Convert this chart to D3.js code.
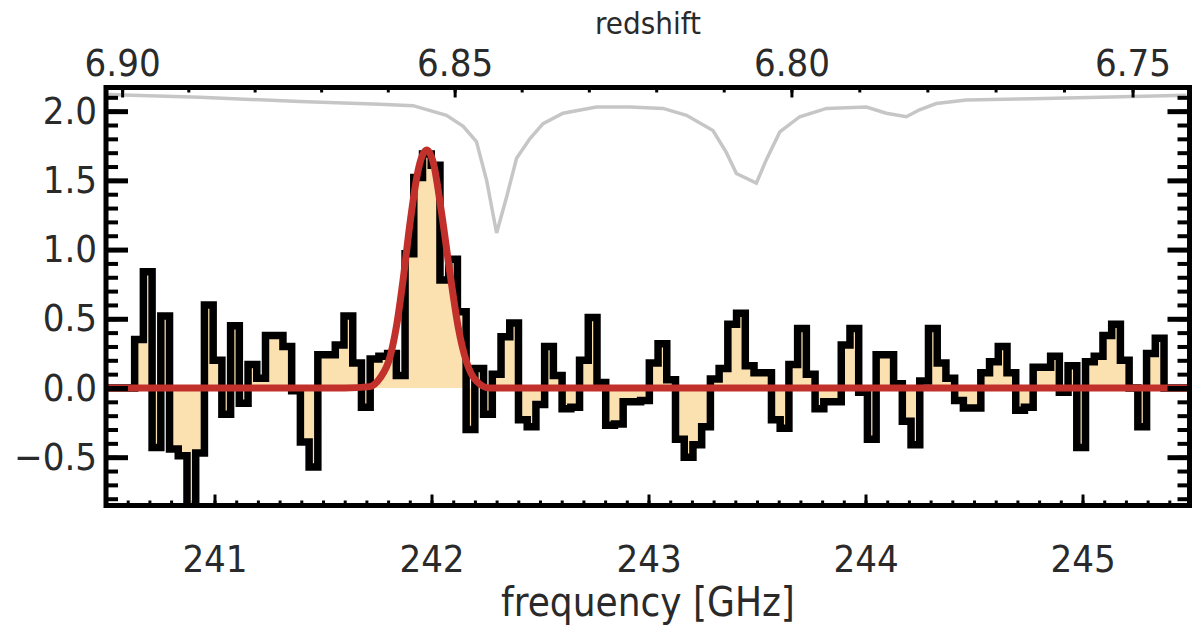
<!DOCTYPE html>
<html>
<head>
<meta charset="utf-8">
<script src="https://cdn.jsdelivr.net/npm/d3@7"></script>
<style>
  html, body { margin: 0; padding: 0; background: #fff; }
  svg text { font-family: "Liberation Sans Narrow", "DejaVu Sans Condensed", "Liberation Sans", sans-serif; fill: #222; }
</style>
</head>
<body>
<div id="chart"></div>
<script>
// channel grid of the spectrum (GHz)
var chanStart = 240.632;
var chanWidth = 0.0402;
// flux density per channel (mJy)
var flux = [
  0.35, 0.84, -0.43, 0.52, -0.44, -0.49, -0.92, -0.47, 0.60, 0.20,
  -0.19, 0.45, -0.11, 0.17, 0.07, 0.38, 0.38, 0.30, -0.02, -0.39,
  -0.57, 0.24, 0.24, 0.31, 0.52, 0.18, -0.14, 0.21, 0.23, 0.25,
  0.09, 0.97, 1.52, 1.69, 1.61, 0.78, 0.93, 0.55, -0.30, 0.14,
  -0.19, 0.10, 0.37, 0.47, -0.23, -0.28, -0.12, 0.30, 0.09, -0.15,
  -0.14, 0.20, 0.51, 0.04, -0.27, -0.26, -0.10, -0.10, -0.09, 0.18,
  0.32, 0.06, -0.37, -0.50, -0.41, -0.28, 0.065, 0.14, 0.46, 0.54,
  0.16, 0.11, 0.11, -0.23, -0.29, 0.17, 0.43, 0.10, -0.15, -0.10,
  -0.10, 0.31, 0.43, -0.03, -0.37, 0.24, 0.24, 0.03, -0.24, -0.41,
  0.05, 0.43, 0.18, 0.07, -0.09, -0.145, -0.145, 0.11, 0.19, 0.30,
  0.11, -0.16, -0.14, 0.15, 0.15, 0.23, -0.03, 0.16, -0.43, 0.19,
  0.23, 0.38, 0.46, 0.20, 0.0, -0.28, 0.25, 0.36
];

// gaussian fit
var fitFreq = [240.51, 241.60, 241.716, 241.762, 241.808, 241.839, 241.869, 241.900, 241.938, 241.978, 242.008, 242.046, 242.085, 242.123, 242.161, 242.207, 242.269, 242.40, 245.49];
var fitFlux = [0, 0, 0.01, 0.07, 0.22, 0.45, 0.78, 1.18, 1.57, 1.72, 1.63, 1.27, 0.83, 0.44, 0.19, 0.05, 0.0, 0, 0];

// atmospheric transmission trace (plotted in flux units)
var atmFreq = [240.505, 240.933, 241.394, 241.762, 241.915, 242.069, 242.146, 242.207, 242.254, 242.300, 242.346, 242.392, 242.453, 242.514, 242.606, 242.760, 242.914, 243.067, 243.175, 243.297, 243.359, 243.405, 243.497, 243.543, 243.605, 243.697, 243.820, 244.004, 244.096, 244.188, 244.249, 244.326, 244.465, 244.770, 245.079, 245.479];
var atmFlux = [2.12, 2.10, 2.07, 2.05, 2.04, 1.97, 1.89, 1.78, 1.50, 1.12, 1.38, 1.66, 1.80, 1.91, 1.985, 2.03, 2.03, 2.02, 1.97, 1.86, 1.70, 1.55, 1.48, 1.65, 1.85, 1.96, 2.02, 2.03, 1.985, 1.96, 2.01, 2.055, 2.08, 2.09, 2.10, 2.115];

// axis ticks
var yMajor = [-0.5, 0.0, 0.5, 1.0, 1.5, 2.0];
var freqMajor = [241, 242, 243, 244, 245];
var zMajor = [6.90, 6.85, 6.80, 6.75];
var nuRest = 1900.537; // [CII] rest frequency, GHz

var W = 1192, H = 630;
var pLeft = 106, pRight = 1189.5, pTop = 87.5, pBottom = 505.5;

var x = d3.scaleLinear().domain([240.5, 245.493]).range([pLeft, pRight]);
var y = d3.scaleLinear().domain([-0.849, 2.171]).range([pBottom, pTop]);

var svg = d3.select("#chart").append("svg")
  .attr("width", W).attr("height", H);

svg.append("clipPath").attr("id", "plotclip")
  .append("rect").attr("x", pLeft).attr("y", pTop)
  .attr("width", pRight - pLeft).attr("height", pBottom - pTop);

var plot = svg.append("g").attr("clip-path", "url(#plotclip)");

var edges = d3.range(flux.length + 1).map(function(i) { return chanStart + i * chanWidth; });
var steps = flux.map(function(v, i) { return [edges[i], v]; });
steps.push([edges[flux.length], flux[flux.length - 1]]);

// filled histogram
var area = d3.area()
  .x(function(d) { return x(d[0]); })
  .y0(y(0))
  .y1(function(d) { return y(d[1]); })
  .curve(d3.curveStepAfter);
plot.append("path").datum(steps)
  .attr("d", area)
  .style("fill", "#fce1b0");

// outline of the histogram
var outline = [[240.5, 0]].concat(steps, [[edges[flux.length], 0], [245.5, 0]]);
var stepLine = d3.line()
  .x(function(d) { return x(d[0]); })
  .y(function(d) { return y(d[1]); })
  .curve(d3.curveStepAfter);
plot.append("path").datum(outline)
  .attr("d", stepLine)
  .style("fill", "none").style("stroke", "#000")
  .style("stroke-width", 7.5).style("stroke-linejoin", "miter");

// atmosphere
var atm = d3.zip(atmFreq, atmFlux);
plot.append("path").datum(atm)
  .attr("d", d3.line().x(function(d) { return x(d[0]); }).y(function(d) { return y(d[1]); }))
  .style("fill", "none").style("stroke", "#c6c6c6").style("stroke-width", 3.5);

// gaussian fit
var fit = d3.zip(fitFreq, fitFlux);
plot.append("path").datum(fit)
  .attr("d", d3.line().x(function(d) { return x(d[0]); }).y(function(d) { return y(d[1]); }).curve(d3.curveMonotoneX))
  .style("fill", "none").style("stroke", "#c1302a").style("stroke-width", 7);

// axes
var fmt = d3.format(".1f");
function styleAxis(g, w) {
  g.select(".domain").remove();
  g.selectAll(".tick line").style("stroke", "#000").style("stroke-width", w);
  g.selectAll("text").style("font-size", "38px").style("fill", "#2a2a2a");
}
var yMinor = d3.range(-8, 22).map(function(i) { return i / 10; });
svg.append("g").attr("transform", "translate(" + pLeft + ",0)")
  .call(d3.axisLeft(y).tickValues(yMinor).tickSize(-12).tickFormat(""))
  .call(styleAxis, 4);
svg.append("g").attr("transform", "translate(" + pLeft + ",0)")
  .call(d3.axisLeft(y).tickValues(yMajor).tickSize(-22).tickPadding(9).tickFormat(fmt))
  .call(styleAxis, 5);
svg.append("g").attr("transform", "translate(" + pRight + ",0)")
  .call(d3.axisRight(y).tickValues(yMinor).tickSize(-12).tickFormat(""))
  .call(styleAxis, 4);
svg.append("g").attr("transform", "translate(" + pRight + ",0)")
  .call(d3.axisRight(y).tickValues(yMajor).tickSize(-22).tickFormat(""))
  .call(styleAxis, 5);

var fMinor = d3.range(2406, 2455).map(function(i) { return i / 10; });
svg.append("g").attr("transform", "translate(0," + pBottom + ")")
  .call(d3.axisBottom(x).tickValues(fMinor).tickSize(-5).tickFormat(""))
  .call(styleAxis, 3);
svg.append("g").attr("transform", "translate(0," + pBottom + ")")
  .call(d3.axisBottom(x).tickValues(freqMajor).tickSize(-11).tickPadding(40).tickFormat(d3.format("d")))
  .call(styleAxis, 3);

var zMinor = d3.range(675, 691).map(function(i) { return nuRest / (1 + i / 100); });
svg.append("g").attr("transform", "translate(0," + pTop + ")")
  .call(d3.axisTop(x).tickValues(zMinor).tickSize(-5).tickFormat(""))
  .call(styleAxis, 3);
svg.append("g").attr("transform", "translate(0," + pTop + ")")
  .call(d3.axisTop(x).tickValues(zMajor.map(function(z) { return nuRest / (1 + z); }))
    .tickSize(-10).tickPadding(12)
    .tickFormat(function(d, i) { return d3.format(".2f")(zMajor[i]); }))
  .call(styleAxis, 3);

// frame
svg.append("rect")
  .attr("x", pLeft).attr("y", pTop)
  .attr("width", pRight - pLeft).attr("height", pBottom - pTop)
  .style("fill", "none").style("stroke", "#000").style("stroke-width", 5);

// axis titles
svg.append("text").attr("x", 648).attr("y", 616)
  .attr("text-anchor", "middle").style("font-size", "40px").style("fill", "#2a2a2a")
  .text("frequency [GHz]");
svg.append("text").attr("x", 648).attr("y", 34)
  .attr("text-anchor", "middle").style("font-size", "31px").style("fill", "#2a2a2a")
  .text("redshift");
</script>
</body>
</html>
